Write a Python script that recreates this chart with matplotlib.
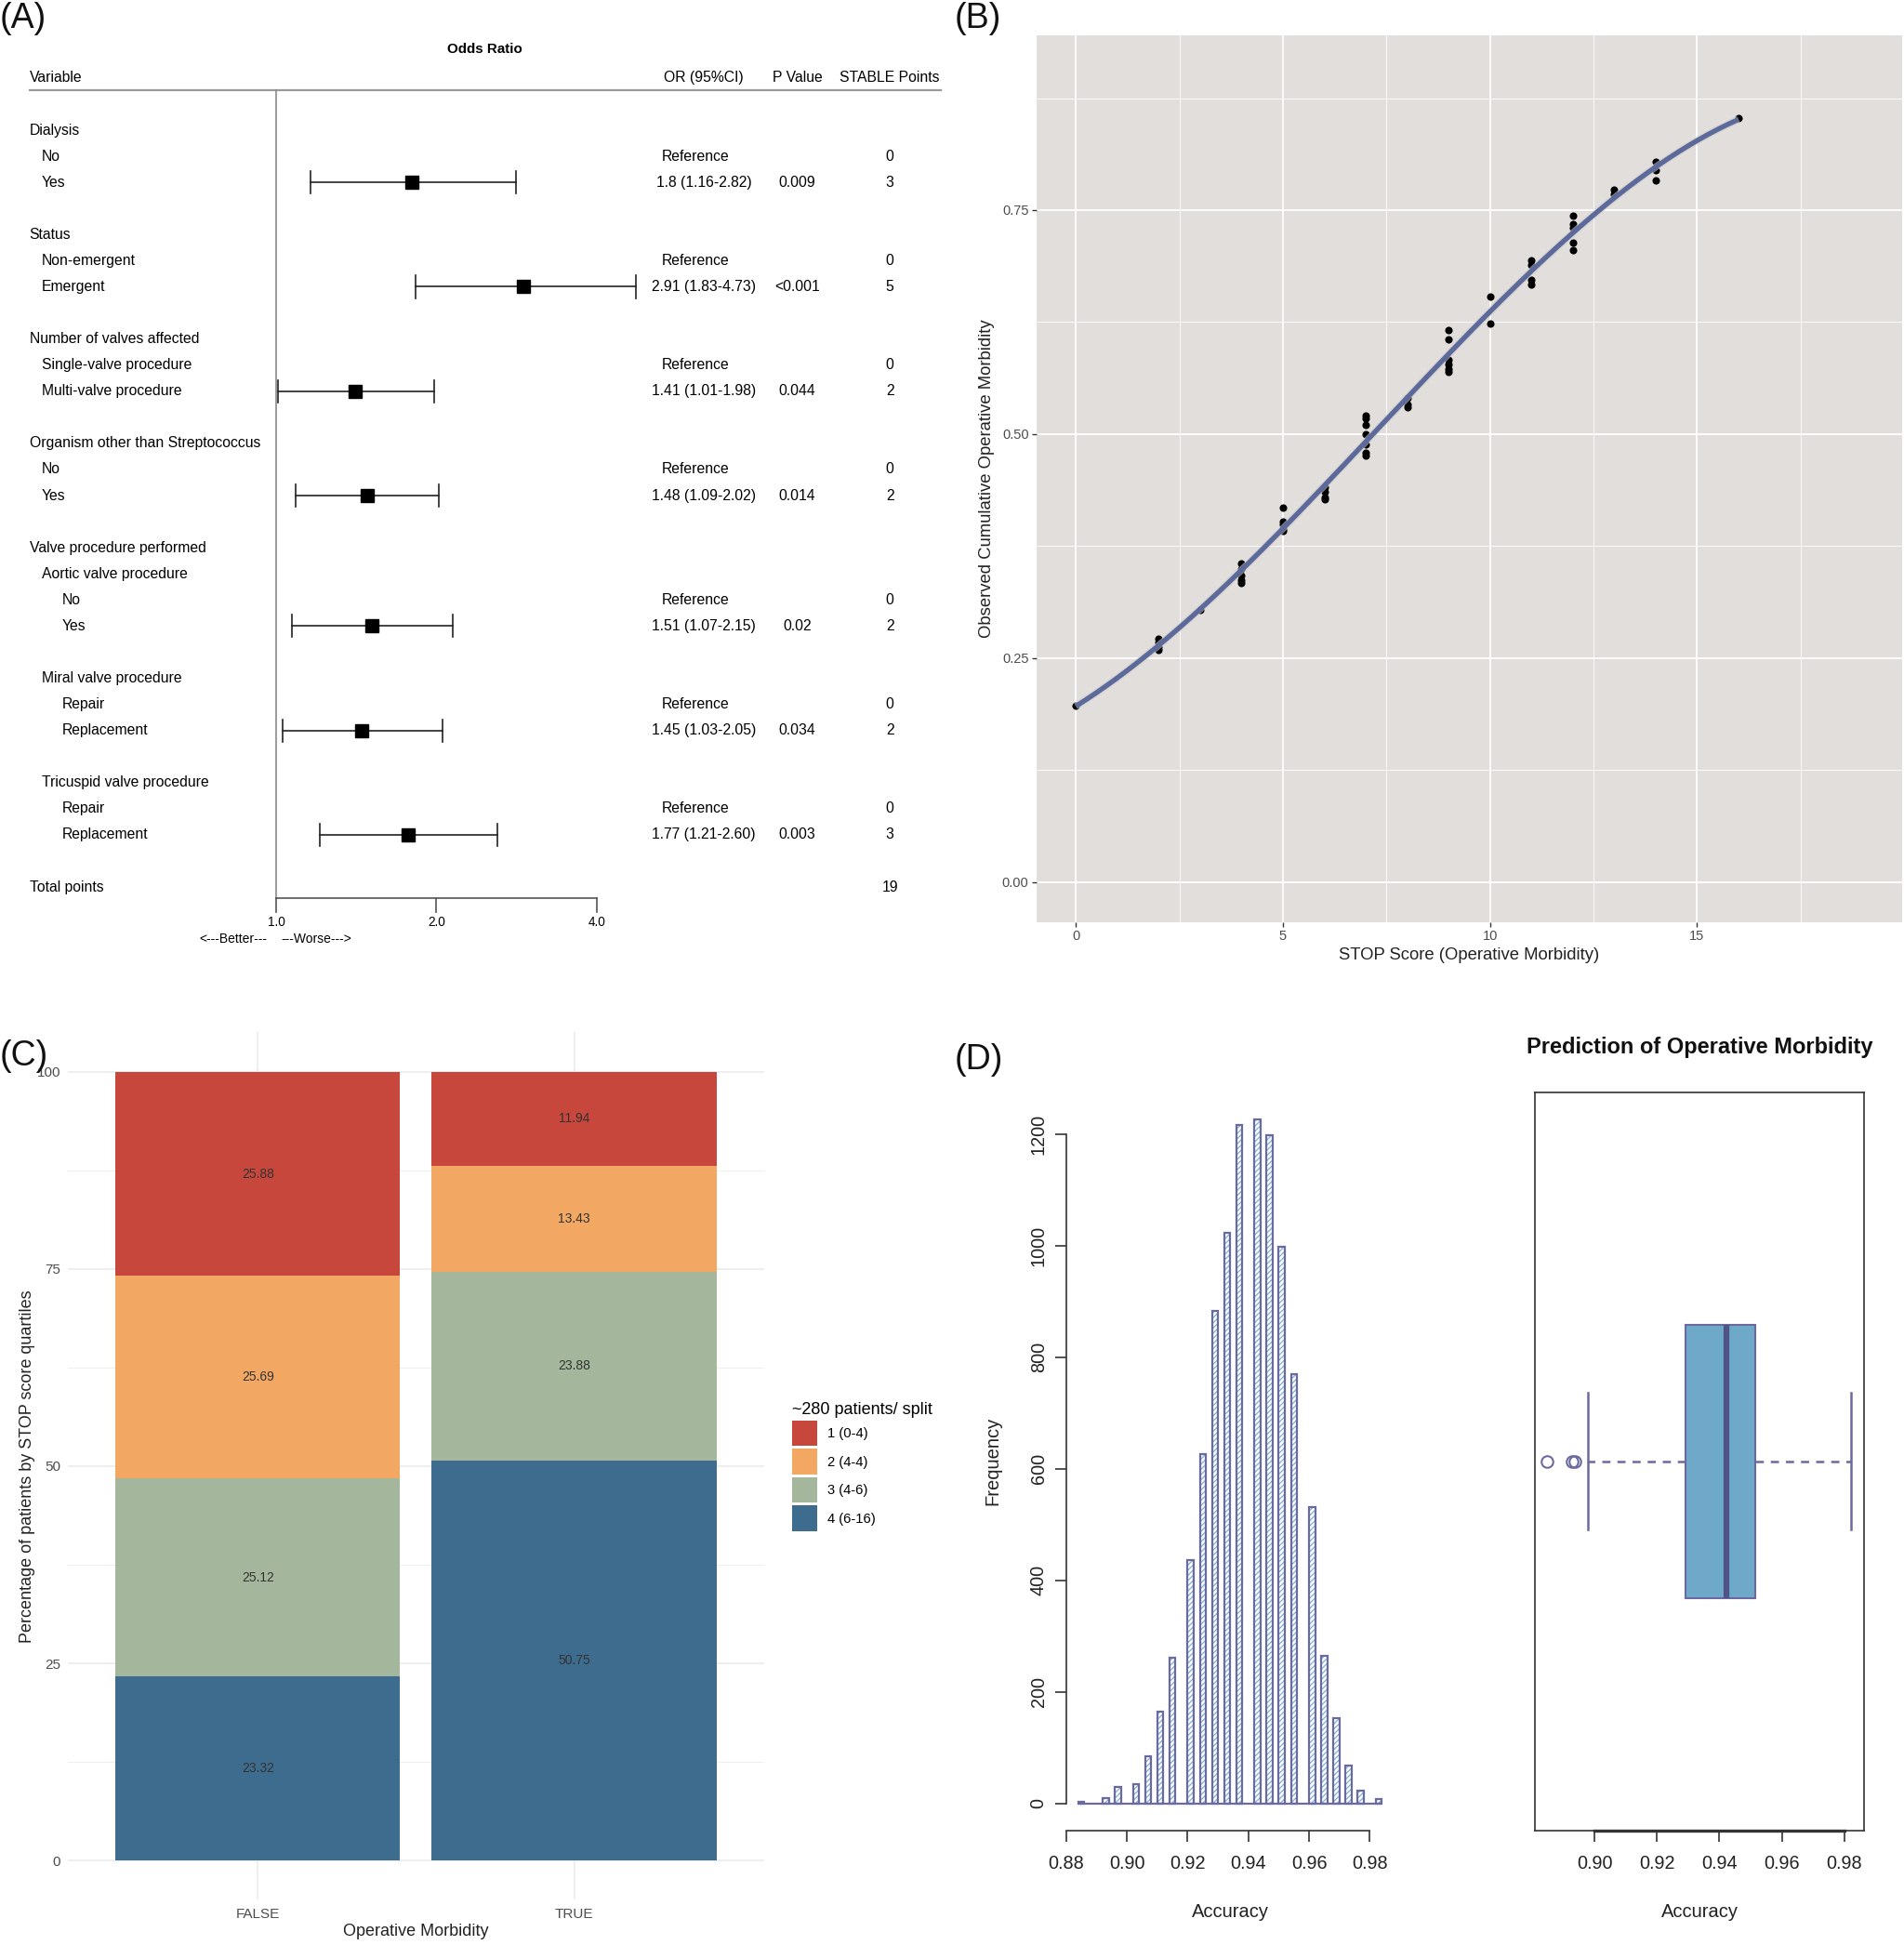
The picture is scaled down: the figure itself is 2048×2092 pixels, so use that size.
import numpy as np
import matplotlib.pyplot as plt
from matplotlib.transforms import blended_transform_factory

plt.rcParams['font.family'] = ['Liberation Sans', 'DejaVu Sans']

# ---------------- panel A: odds ratio table ----------------
table_labels = ['Dialysis', 'No', 'Yes', '',
                'Status', 'Non-emergent', 'Emergent', '',
                'Number of valves affected', 'Single-valve procedure', 'Multi-valve procedure', '',
                'Organism other than Streptococcus', 'No', 'Yes', '',
                'Valve procedure performed', 'Aortic valve procedure', 'No', 'Yes', '',
                'Miral valve procedure', 'Repair', 'Replacement', '',
                'Tricuspid valve procedure', 'Repair', 'Replacement', '',
                'Total points']
table_indent = [0, 1, 1, 0, 0, 1, 1, 0, 0, 1, 1, 0, 0, 1, 1, 0,
                0, 1, 2, 2, 0, 1, 2, 2, 0, 1, 2, 2, 0, 0]
table_kind = ['', 'ref', 'est', '', '', 'ref', 'est', '', '', 'ref', 'est', '',
              '', 'ref', 'est', '', '', '', 'ref', 'est', '', '', 'ref', 'est', '',
              '', 'ref', 'est', '', 'total']

or_est = [1.8, 2.91, 1.41, 1.48, 1.51, 1.45, 1.77]
or_lo = [1.16, 1.83, 1.01, 1.09, 1.07, 1.03, 1.21]
or_hi = [2.82, 4.73, 1.98, 2.02, 2.15, 2.05, 2.60]
or_text = ['1.8 (1.16-2.82)', '2.91 (1.83-4.73)', '1.41 (1.01-1.98)', '1.48 (1.09-2.02)',
           '1.51 (1.07-2.15)', '1.45 (1.03-2.05)', '1.77 (1.21-2.60)']
p_values = ['0.009', '<0.001', '0.044', '0.014', '0.02', '0.034', '0.003']
stable_points = [3, 5, 2, 2, 2, 2, 3]
or_ticks = [1.0, 2.0, 4.0]

# ---------------- panel B: calibration ----------------
stop_x = [0, 2, 2, 2, 2, 3, 4, 4, 4, 4, 4, 5, 5, 5, 5, 5, 6, 6, 6, 6,
          7, 7, 7, 7, 7, 7, 7, 8, 8, 8, 9, 9, 9, 9, 9, 9, 10, 10,
          11, 11, 11, 11, 12, 12, 12, 12, 12, 13, 13, 14, 14, 14, 16]
stop_y = [0.197, 0.272, 0.267, 0.262, 0.259, 0.304,
          0.356, 0.349, 0.342, 0.337, 0.334,
          0.418, 0.402, 0.399, 0.394, 0.392,
          0.441, 0.436, 0.429, 0.427,
          0.521, 0.517, 0.510, 0.500, 0.488, 0.479, 0.476,
          0.540, 0.533, 0.530,
          0.616, 0.606, 0.583, 0.578, 0.573, 0.569,
          0.653, 0.623,
          0.694, 0.689, 0.672, 0.667,
          0.744, 0.734, 0.730, 0.714, 0.705,
          0.773, 0.768,
          0.804, 0.795, 0.783,
          0.853]

# ---------------- panel C: stacked bars ----------------
morbidity = ['FALSE', 'TRUE']
quartile_labels = ['1 (0-4)', '2 (4-4)', '3 (4-6)', '4 (6-16)']
pct_false = [25.88, 25.69, 25.12, 23.32]
pct_true = [11.94, 13.43, 23.88, 50.75]
quartile_colors = ['#C8473C', '#F2A862', '#A4B69C', '#3E6C8E']

# ---------------- panel D: bootstrap accuracy ----------------
acc_bin_start = [0.884, 0.892, 0.896, 0.902, 0.906, 0.910, 0.914, 0.920, 0.924, 0.928, 0.932,
                 0.936, 0.942, 0.946, 0.950, 0.954, 0.960, 0.964, 0.968, 0.972, 0.976, 0.982]
acc_count = [2, 10, 30, 34, 84, 164, 261, 437, 627, 884, 1023,
             1216, 1227, 1199, 998, 770, 532, 264, 153, 68, 23, 7]
acc_bin_width = 0.002
acc_range = [0.884, 0.984]
box_q1, box_med, box_q3 = 0.9292, 0.9422, 0.9514
box_wlo, box_whi = 0.8979, 0.9823
box_out = [0.8848, 0.8929, 0.8936]
acc_ticks = [0.88, 0.90, 0.92, 0.94, 0.96, 0.98]

fig = plt.figure(figsize=(20.48, 20.92), dpi=100)

# ======== A ========
axA = fig.add_axes([0, 0.5076, 0.5015, 0.4924])
axA.set_xscale('log', base=2)
axA.set_xlim(0.3030, 18.82)
axA.set_ylim(31.71, -4.99)
axA.axis('off')
tr = blended_transform_factory(axA.transAxes, axA.transData)
fs = 11.3
indent_x = [0.0308, 0.0435, 0.0652]
col_ref, col_or, col_p, col_pts = 0.7286, 0.737, 0.835, 0.932

axA.text(0.508, -3.09, 'Odds Ratio', transform=tr, ha='center', va='center',
         fontsize=10.9, fontweight='bold')
axA.text(indent_x[0], -2, 'Variable', transform=tr, va='center', fontsize=fs)
axA.text(col_or, -2, 'OR (95%CI)', transform=tr, ha='center', va='center', fontsize=fs)
axA.text(col_p, -2, 'P Value', transform=tr, ha='center', va='center', fontsize=fs)
axA.text(col_pts, -2, 'STABLE Points', transform=tr, ha='center', va='center', fontsize=fs)
axA.plot([0.031, 0.985], [-1.54, -1.54], transform=tr, color='#9a9a9a', lw=1.6)
axA.plot([1, 1], [-1.54, 29.43], color='#8a8a8a', lw=1.2)

k = 0
for r, (lab, ind, kind) in enumerate(zip(table_labels, table_indent, table_kind)):
    if lab:
        axA.text(indent_x[ind], r, lab, transform=tr, va='center', fontsize=fs)
    if kind == 'ref':
        axA.text(col_ref, r, 'Reference', transform=tr, ha='center', va='center', fontsize=fs)
        axA.text(col_pts, r, '0', transform=tr, ha='center', va='center', fontsize=fs)
    elif kind == 'est':
        axA.plot([or_lo[k], or_hi[k]], [r, r], color='#222222', lw=1.2)
        for v in (or_lo[k], or_hi[k]):
            axA.plot([v, v], [r - 0.43, r + 0.43], color='#222222', lw=1.2)
        axA.plot(or_est[k], r, 's', ms=10.5, color='black')
        axA.text(col_or, r, or_text[k], transform=tr, ha='center', va='center', fontsize=fs)
        axA.text(col_p, r, p_values[k], transform=tr, ha='center', va='center', fontsize=fs)
        axA.text(col_pts, r, str(stable_points[k]), transform=tr, ha='center', va='center', fontsize=fs)
        k += 1
    elif kind == 'total':
        axA.text(col_pts, r, str(sum(stable_points)), transform=tr, ha='center', va='center', fontsize=fs)

axA.plot([or_ticks[0], or_ticks[-1]], [29.43, 29.43], color='#555555', lw=1.2)
for t in or_ticks:
    axA.plot([t, t], [29.43, 29.95], color='#555555', lw=1.2)
    axA.text(t, 30.35, f'{t:.1f}', ha='center', va='center', fontsize=9.8)
axA.text(0.961, 31.0, '<---Better---', ha='right', va='center', fontsize=10)
axA.text(1.02, 31.0, '---Worse--->', ha='left', va='center', fontsize=10)

# ======== B ========
axB = fig.add_axes([0.5444, 0.5258, 0.4546, 0.456])
axB.set_facecolor('#E2DEDC')
for s in axB.spines.values():
    s.set_visible(False)
axB.set_xlim(-0.95, 19.95)
axB.set_ylim(-0.045, 0.945)
axB.set_xticks([0, 5, 10, 15])
axB.set_xticks([2.5, 7.5, 12.5, 17.5], minor=True)
axB.set_yticks([0, 0.25, 0.5, 0.75])
axB.set_yticklabels(['0.00', '0.25', '0.50', '0.75'])
axB.set_yticks([0.125, 0.375, 0.625, 0.875], minor=True)
axB.grid(True, which='major', color='white', lw=1.3)
axB.grid(True, which='minor', color='white', lw=0.6)
axB.set_axisbelow(True)
axB.tick_params(which='major', length=3.5, width=1, color='#333333', labelcolor='#4D4D4D',
                labelsize=10.5, pad=2.5)
axB.tick_params(which='minor', length=0)

coef = np.polyfit(stop_x, stop_y, 3)
xs = np.linspace(min(stop_x), max(stop_x), 200)
fit = np.polyval(coef, xs)
axB.scatter(stop_x, stop_y, s=34, color='black', zorder=2, linewidths=0)
axB.plot(xs, fit, color='#C9C6C8', lw=5.5, zorder=3, alpha=0.6, solid_capstyle='butt')
axB.plot(xs, fit, color='#5B6A9A', lw=3.8, zorder=4, solid_capstyle='butt')
axB.set_xlabel('STOP Score (Operative Morbidity)', fontsize=13.3, labelpad=3, color='#222222')
axB.set_ylabel('Observed Cumulative Operative Morbidity', fontsize=13.3, labelpad=6, color='#222222')

# ======== C ========
axC = fig.add_axes([0.0358, 0.0232, 0.3654, 0.446])
xpos = np.arange(1, len(morbidity) + 1)
pct = np.array([pct_false, pct_true])
bottoms = np.zeros(len(morbidity))
handles = [None] * len(quartile_labels)
for qi in range(len(quartile_labels) - 1, -1, -1):
    vals = pct[:, qi]
    h = axC.bar(xpos, vals, width=0.9, bottom=bottoms, color=quartile_colors[qi], lw=0,
                label=quartile_labels[qi])
    handles[qi] = h
    for xi, v, b in zip(xpos, vals, bottoms):
        axC.text(xi, b + v / 2, f'{v:.2f}', ha='center', va='center', fontsize=10, color='#333333')
    bottoms = bottoms + vals
axC.set_xlim(0.4, 2.6)
axC.set_ylim(-5, 105)
axC.set_xticks(xpos)
axC.set_xticklabels(morbidity)
axC.set_yticks([0, 25, 50, 75, 100])
axC.set_yticks([12.5, 37.5, 62.5, 87.5], minor=True)
axC.grid(True, which='major', color='#EBEBEB', lw=1.2)
axC.grid(True, which='minor', axis='y', color='#EBEBEB', lw=0.6)
axC.set_axisbelow(True)
for s in axC.spines.values():
    s.set_visible(False)
axC.tick_params(which='both', length=0, labelsize=11, labelcolor='#4D4D4D', pad=6)
axC.set_xlabel('Operative Morbidity', fontsize=13, labelpad=2, color='#222222')
axC.set_ylabel('Percentage of patients by STOP score quartiles', fontsize=13, labelpad=1,
               color='#222222')
axC.legend(handles, quartile_labels, title='~280 patients/ split', loc='upper left',
           bbox_to_anchor=(852 / 2048, 1 - 1508 / 2092), bbox_transform=fig.transFigure,
           frameon=False, fontsize=10.6, title_fontsize=13, handlelength=1.85, handleheight=2.5,
           labelspacing=0.2, handletextpad=0.75, borderpad=0, borderaxespad=0, alignment='left')

# ======== D: histogram ========
edge_col = '#6B6A9E'
axH = fig.add_axes([0.560, 0.0588, 0.1722, 0.3798])
axH.bar(acc_bin_start, acc_count, width=acc_bin_width, align='edge', color='white',
        edgecolor='#86B6DD', hatch='//////', lw=0)
axH.bar(acc_bin_start, acc_count, width=acc_bin_width, align='edge', fill=False,
        edgecolor=edge_col, lw=1.6)
axH.hlines(0, acc_range[0], acc_range[1], color=edge_col, lw=1.6)
axH.set_xlim(0.880, 0.988)
axH.set_ylim(-49.1, 1276.1)
for side in ('top', 'right'):
    axH.spines[side].set_visible(False)
axH.spines['left'].set_bounds(0, 1200)
axH.spines['bottom'].set_bounds(acc_ticks[0], acc_ticks[-1])
axH.set_xticks(acc_ticks)
axH.set_xticklabels([f'{t:.2f}' for t in acc_ticks])
axH.set_yticks(range(0, 1201, 200))
for lab in axH.get_yticklabels():
    lab.set_rotation(90)
    lab.set_va('center')
for s in axH.spines.values():
    s.set_color('#333333')
    s.set_linewidth(1.2)
axH.tick_params(length=8.5, width=1.2, color='#333333', labelsize=14.3, labelcolor='#222222', pad=6)
axH.tick_params(axis='x', pad=10)
axH.set_xlabel('Accuracy', fontsize=14.5, labelpad=24, color='#222222')
axH.set_ylabel('Frequency', fontsize=14.5, labelpad=22, color='#222222')

# ======== D: boxplot ========
axX = fig.add_axes([0.8062, 0.0588, 0.1729, 0.3796])
stats = [dict(med=box_med, q1=box_q1, q3=box_q3, whislo=box_wlo, whishi=box_whi, fliers=box_out)]
axX.bxp(stats, positions=[1], widths=0.4, orientation='horizontal', patch_artist=True,
        capwidths=0.2,
        boxprops=dict(facecolor='#6FA9C9', edgecolor=edge_col, lw=1.5),
        medianprops=dict(color='#4E5488', lw=4.5, solid_capstyle='butt'),
        whiskerprops=dict(color=edge_col, lw=1.8, linestyle=(0, (3.5, 3))),
        capprops=dict(color=edge_col, lw=1.8),
        flierprops=dict(marker='o', markerfacecolor='none', markeredgecolor=edge_col,
                        markersize=9, markeredgewidth=1.5))
axX.set_xlim(0.8809, 0.9864)
axX.set_ylim(0.46, 1.54)
axX.set_yticks([])
axX.set_xticks(acc_ticks[1:])
axX.set_xticklabels([f'{t:.2f}' for t in acc_ticks[1:]])
for s in axX.spines.values():
    s.set_color('#333333')
    s.set_linewidth(1.2)
axX.plot([acc_ticks[1], acc_ticks[-1]], [0.46, 0.46], color='#333333', lw=2.4, clip_on=False)
axX.tick_params(length=8.5, width=1.2, color='#333333', labelsize=14.3, labelcolor='#222222', pad=10)
axX.set_xlabel('Accuracy', fontsize=14.5, labelpad=24, color='#222222')
fig.text(1828 / 2048, 1 - 1127 / 2092, 'Prediction of Operative Morbidity', ha='center',
         va='center', fontsize=17, fontweight='bold', color='#111111')

# panel letters
for lab, x, y in [('(A)', 0.0, 20), ('(B)', 1027, 20), ('(C)', 0.0, 1136), ('(D)', 1027, 1140)]:
    fig.text(x / 2048, 1 - y / 2092, lab, ha='left', va='center', fontsize=27, color='#111111')

fig.savefig('out.png', dpi=100)
